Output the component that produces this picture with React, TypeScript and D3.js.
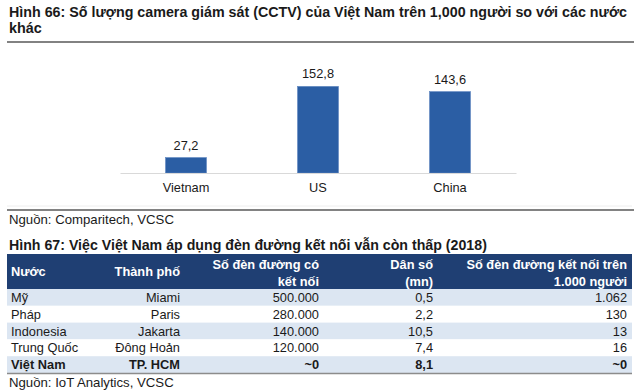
import React, { useEffect, useRef } from 'react';
import * as d3 from 'd3';

// Hình 66 - camera per 1,000 people
const countries = ['Vietnam', 'US', 'China'];
const cctvPer1000 = [27.2, 152.8, 143.6];

// Hình 67 - connected street lights
const tableHeaders = [
  ['Nước'],
  ['Thành phố'],
  ['Số đèn đường có', 'kết nối'],
  ['Dân số', '(mn)'],
  ['Số đèn đường kết nối trên', '1.000 người'],
];
const tableCountries = ['Mỹ', 'Pháp', 'Indonesia', 'Trung Quốc', 'Việt Nam'];
const tableCities = ['Miami', 'Paris', 'Jakarta', 'Đông Hoản', 'TP. HCM'];
const connectedLights = ['500.000', '280.000', '140.000', '120.000', '~0'];
const population = ['0,5', '2,2', '10,5', '7,4', '8,1'];
const lightsPer1000 = ['1.062', '130', '13', '16', '~0'];

const FONT = '"Liberation Sans", Arial, sans-serif';

const vn = d3.formatLocale({ decimal: ',', thousands: '.', grouping: [3], currency: ['', ''] });
const fmt = vn.format('.1f');

const App: React.FC = () => {
  const ref = useRef<SVGSVGElement | null>(null);

  useEffect(() => {
    document.body.style.margin = '0';
    const width = 640;
    const height = 391;
    const svg = d3.select(ref.current);
    svg.selectAll('*').remove();
    svg
      .attr('width', width)
      .attr('height', height)
      .attr('viewBox', `0 0 ${width} ${height}`)
      .style('font-family', FONT)
      .style('display', 'block')
      .style('background', '#fff');

    // ---- Hình 66 title
    const title = svg.append('text')
      .attr('font-weight', 'bold')
      .attr('font-size', 14.4)
      .attr('fill', '#1a1a1a');
    title.append('tspan').attr('x', 9).attr('y', 17)
      .attr('textLength', 618)
      .attr('lengthAdjust', 'spacingAndGlyphs')
      .text('Hình 66: Số lượng camera giám sát (CCTV) của Việt Nam trên 1,000 người so với các nước');
    title.append('tspan').attr('x', 9).attr('y', 33).text('khác');

    svg.append('line')
      .attr('x1', 7).attr('x2', 634).attr('y1', 42).attr('y2', 42)
      .attr('stroke', '#595959').attr('stroke-width', 1.6);

    // ---- bar chart
    const x = d3.scaleBand()
      .domain(countries)
      .range([120, 516])
      .paddingInner(0.69)
      .paddingOuter(0.345);

    const y = d3.scaleLinear()
      .domain([0, 180])
      .range([173, 71]);

    const data = countries.map((c, i) => ({ c, v: cctvPer1000[i] }));

    svg.append('g')
      .selectAll('rect')
      .data(data)
      .join('rect')
      .attr('x', d => x(d.c) as number)
      .attr('y', d => y(d.v))
      .attr('width', x.bandwidth())
      .attr('height', d => y(0) - y(d.v))
      .attr('fill', '#2B5EA4')
      .attr('stroke', '#5b84bf')
      .attr('stroke-width', 0.6);

    svg.append('g')
      .selectAll('text')
      .data(data)
      .join('text')
      .attr('x', d => (x(d.c) as number) + x.bandwidth() / 2)
      .attr('y', d => y(d.v) - 8)
      .attr('text-anchor', 'middle')
      .attr('font-size', 12.8)
      .attr('fill', '#1a1a1a')
      .text(d => fmt(d.v));

    const xAxis = svg.append('g')
      .attr('transform', `translate(0,${y(0)})`)
      .call(d3.axisBottom(x).tickSize(0).tickPadding(10));
    xAxis.select('.domain').attr('stroke', '#d9d9d9').attr('stroke-width', 1.2);
    xAxis.selectAll('text')
      .attr('font-family', FONT)
      .attr('font-size', 12.8)
      .attr('fill', '#1a1a1a');

    svg.append('line')
      .attr('x1', 7).attr('x2', 632).attr('y1', 206).attr('y2', 206)
      .attr('stroke', '#eeeeee').attr('stroke-width', 1);

    svg.append('line')
      .attr('x1', 7).attr('x2', 634).attr('y1', 210).attr('y2', 210)
      .attr('stroke', '#595959').attr('stroke-width', 1.6);

    svg.append('text')
      .attr('x', 9).attr('y', 224)
      .attr('font-size', 13.2)
      .attr('fill', '#1a1a1a')
      .text('Nguồn: Comparitech, VCSC');

    // ---- Hình 67
    svg.append('text')
      .attr('x', 9).attr('y', 250)
      .attr('font-weight', 'bold')
      .attr('font-size', 14.2)
      .attr('fill', '#1a1a1a')
      .text('Hình 67: Việc Việt Nam áp dụng đèn đường kết nối vẫn còn thấp (2018)');

    const tableLeft = 7;
    const tableRight = 632;
    const headTop = 254;
    const headBottom = 289;
    const colX = [11, 180, 319, 433, 627];
    const colAnchor = ['start', 'end', 'end', 'end', 'end'];

    svg.append('rect')
      .attr('x', tableLeft).attr('y', headTop)
      .attr('width', tableRight - tableLeft).attr('height', headBottom - headTop)
      .attr('fill', '#1F3F73');

    tableHeaders.forEach((lines, ci) => {
      const t = svg.append('text')
        .attr('font-size', 12.8)
        .attr('font-weight', 'bold')
        .attr('fill', '#fff')
        .attr('text-anchor', colAnchor[ci]);
      if (lines.length === 1) {
        t.append('tspan').attr('x', colX[ci]).attr('y', 276).text(lines[0]);
      } else {
        t.append('tspan').attr('x', colX[ci]).attr('y', 269).text(lines[0]);
        t.append('tspan').attr('x', colX[ci]).attr('y', 286).text(lines[1]);
      }
    });

    const rows = tableCountries.map((c, i) => [c, tableCities[i], connectedLights[i], population[i], lightsPer1000[i]]);
    const rowY = d3.scaleBand<number>()
      .domain(d3.range(rows.length))
      .range([headBottom, 373]);

    const rowG = svg.append('g')
      .selectAll('g')
      .data(rows)
      .join('g')
      .attr('transform', (_, i) => `translate(0,${rowY(i)})`);

    rowG.append('rect')
      .attr('x', tableLeft)
      .attr('width', tableRight - tableLeft)
      .attr('height', rowY.bandwidth())
      .attr('fill', (_, i) => (i % 2 === 0 ? '#DCE6F2' : '#ffffff'));

    rowG.selectAll('text')
      .data((r, i) => r.map(v => ({ v, bold: i === rows.length - 1 })))
      .join('text')
      .attr('x', (_, ci) => colX[ci])
      .attr('y', 13)
      .attr('text-anchor', (_, ci) => colAnchor[ci])
      .attr('font-size', 12.8)
      .attr('font-weight', d => (d.bold ? 'bold' : 'normal'))
      .attr('fill', '#1a1a1a')
      .text(d => d.v);

    svg.append('line')
      .attr('x1', tableLeft).attr('x2', tableRight).attr('y1', 373.5).attr('y2', 373.5)
      .attr('stroke', '#8c8c8c').attr('stroke-width', 1.5);

    svg.append('text')
      .attr('x', 9).attr('y', 387)
      .attr('font-size', 13.2)
      .attr('fill', '#1a1a1a')
      .text('Nguồn: IoT Analytics, VCSC');
  }, []);

  return <svg ref={ref}></svg>;
};

export default App;
